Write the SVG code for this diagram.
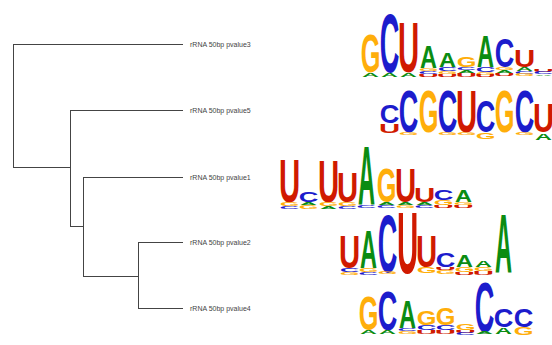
<svg xmlns="http://www.w3.org/2000/svg" width="552" height="345" viewBox="0 0 552 345">
<style>
.lbl{font-family:"Liberation Sans",Arial,sans-serif;font-size:7px;fill:#444}
.L{font-family:"Liberation Sans",Arial,sans-serif;font-weight:bold}
.a{fill:#0b8c12}.c{fill:#1c1ccc}.g{fill:#ffae0a}.u{fill:#d01a00}
.tree{fill:none;stroke:#444;stroke-width:1}
</style>
<rect width="552" height="345" fill="#fff"/>
<g id="connectors">
<path class="tree" d="M13,44.5 H183 M13.5,44.5 V167.5 M13,167.5 H70 M70.5,110.5 V226.5 M70,110.5 H183 M70,226.5 H83 M83.5,177.5 V276.5 M83,177.5 H183 M83,276.5 H138 M138.5,242.5 V308.5 M138,242.5 H183 M138,308.5 H183"/>
</g>
<g id="pvalue3">
<text class="lbl" x="190" y="47">rRNA 50bp pvalue3</text>
<text class="L g" x="360.8" y="72" font-size="54.5" textLength="19.7" lengthAdjust="spacingAndGlyphs">G</text>
<text class="L a" x="362" y="77" font-size="5.6" textLength="17" lengthAdjust="spacingAndGlyphs">A</text>
<text class="L c" x="379.7" y="72" font-size="83.8" textLength="19.6" lengthAdjust="spacingAndGlyphs">C</text>
<text class="L a" x="381" y="77" font-size="5.6" textLength="17" lengthAdjust="spacingAndGlyphs">A</text>
<text class="L u" x="397.9" y="72" font-size="69.9" textLength="21.2" lengthAdjust="spacingAndGlyphs">U</text>
<text class="L a" x="400" y="77" font-size="5.6" textLength="17" lengthAdjust="spacingAndGlyphs">A</text>
<text class="L a" x="420" y="68" font-size="32.1" textLength="17" lengthAdjust="spacingAndGlyphs">A</text>
<text class="L g" x="418.8" y="71" font-size="4.2" textLength="19.7" lengthAdjust="spacingAndGlyphs">G</text>
<text class="L c" x="418.7" y="74" font-size="4.2" textLength="19.6" lengthAdjust="spacingAndGlyphs">C</text>
<text class="L u" x="417.9" y="77" font-size="4.2" textLength="21.2" lengthAdjust="spacingAndGlyphs">U</text>
<text class="L a" x="439" y="67" font-size="19.6" textLength="17" lengthAdjust="spacingAndGlyphs">A</text>
<text class="L c" x="437.7" y="71" font-size="5.6" textLength="19.6" lengthAdjust="spacingAndGlyphs">C</text>
<text class="L g" x="437.8" y="74" font-size="4.2" textLength="19.7" lengthAdjust="spacingAndGlyphs">G</text>
<text class="L u" x="436.9" y="77" font-size="4.2" textLength="21.2" lengthAdjust="spacingAndGlyphs">U</text>
<text class="L g" x="456.8" y="67" font-size="14" textLength="19.7" lengthAdjust="spacingAndGlyphs">G</text>
<text class="L c" x="456.7" y="70" font-size="4.2" textLength="19.6" lengthAdjust="spacingAndGlyphs">C</text>
<text class="L a" x="458" y="73" font-size="4.2" textLength="17" lengthAdjust="spacingAndGlyphs">A</text>
<text class="L u" x="455.9" y="77" font-size="5.6" textLength="21.2" lengthAdjust="spacingAndGlyphs">U</text>
<text class="L a" x="477" y="67" font-size="44.7" textLength="17" lengthAdjust="spacingAndGlyphs">A</text>
<text class="L c" x="475.7" y="72" font-size="7" textLength="19.6" lengthAdjust="spacingAndGlyphs">C</text>
<text class="L g" x="475.8" y="75" font-size="4.2" textLength="19.7" lengthAdjust="spacingAndGlyphs">G</text>
<text class="L u" x="474.9" y="77" font-size="2.8" textLength="21.2" lengthAdjust="spacingAndGlyphs">U</text>
<text class="L c" x="494.7" y="67" font-size="40.5" textLength="19.6" lengthAdjust="spacingAndGlyphs">C</text>
<text class="L g" x="494.8" y="70" font-size="4.2" textLength="19.7" lengthAdjust="spacingAndGlyphs">G</text>
<text class="L a" x="496" y="73" font-size="4.2" textLength="17" lengthAdjust="spacingAndGlyphs">A</text>
<text class="L u" x="493.9" y="76" font-size="4.2" textLength="21.2" lengthAdjust="spacingAndGlyphs">U</text>
<text class="L u" x="513.9" y="67" font-size="23.7" textLength="21.2" lengthAdjust="spacingAndGlyphs">U</text>
<text class="L a" x="516" y="71" font-size="5.6" textLength="17" lengthAdjust="spacingAndGlyphs">A</text>
<text class="L c" x="514.7" y="74" font-size="4.2" textLength="19.6" lengthAdjust="spacingAndGlyphs">C</text>
<text class="L g" x="514.8" y="76" font-size="2.8" textLength="19.7" lengthAdjust="spacingAndGlyphs">G</text>
<text class="L u" x="532.9" y="72" font-size="2.8" textLength="21.2" lengthAdjust="spacingAndGlyphs">U</text>
<text class="L c" x="533.7" y="74" font-size="2.8" textLength="19.6" lengthAdjust="spacingAndGlyphs">C</text>
<text class="L a" x="535" y="75.5" font-size="2.1" textLength="17" lengthAdjust="spacingAndGlyphs">A</text>
</g>
<g id="pvalue5">
<text class="lbl" x="190" y="113">rRNA 50bp pvalue5</text>
<text class="L c" x="379.7" y="123" font-size="25.1" textLength="19.6" lengthAdjust="spacingAndGlyphs">C</text>
<text class="L u" x="378.9" y="133" font-size="12.6" textLength="21.2" lengthAdjust="spacingAndGlyphs">U</text>
<text class="L c" x="398.7" y="132" font-size="60.1" textLength="19.6" lengthAdjust="spacingAndGlyphs">C</text>
<text class="L g" x="398.8" y="135" font-size="4.2" textLength="19.7" lengthAdjust="spacingAndGlyphs">G</text>
<text class="L g" x="418.8" y="132" font-size="60.1" textLength="19.7" lengthAdjust="spacingAndGlyphs">G</text>
<text class="L c" x="437.7" y="132" font-size="60.1" textLength="19.6" lengthAdjust="spacingAndGlyphs">C</text>
<text class="L g" x="437.8" y="135" font-size="4.2" textLength="19.7" lengthAdjust="spacingAndGlyphs">G</text>
<text class="L u" x="455.9" y="132" font-size="60.1" textLength="21.2" lengthAdjust="spacingAndGlyphs">U</text>
<text class="L g" x="456.8" y="135" font-size="4.2" textLength="19.7" lengthAdjust="spacingAndGlyphs">G</text>
<text class="L c" x="475.7" y="132" font-size="44.7" textLength="19.6" lengthAdjust="spacingAndGlyphs">C</text>
<text class="L g" x="475.8" y="139" font-size="8.4" textLength="19.7" lengthAdjust="spacingAndGlyphs">G</text>
<text class="L g" x="494.8" y="132" font-size="60.1" textLength="19.7" lengthAdjust="spacingAndGlyphs">G</text>
<text class="L c" x="514.7" y="132" font-size="60.1" textLength="19.6" lengthAdjust="spacingAndGlyphs">C</text>
<text class="L g" x="514.8" y="135" font-size="4.2" textLength="19.7" lengthAdjust="spacingAndGlyphs">G</text>
<text class="L u" x="532.9" y="132" font-size="40.5" textLength="21.2" lengthAdjust="spacingAndGlyphs">U</text>
<text class="L a" x="535" y="140" font-size="9.8" textLength="17" lengthAdjust="spacingAndGlyphs">A</text>
</g>
<g id="pvalue1">
<text class="lbl" x="190" y="180">rRNA 50bp pvalue1</text>
<text class="L u" x="278.9" y="202" font-size="61.5" textLength="21.2" lengthAdjust="spacingAndGlyphs">U</text>
<text class="L g" x="279.8" y="206" font-size="5.6" textLength="19.7" lengthAdjust="spacingAndGlyphs">G</text>
<text class="L c" x="279.7" y="209" font-size="4.2" textLength="19.6" lengthAdjust="spacingAndGlyphs">C</text>
<text class="L c" x="298.7" y="202" font-size="15.4" textLength="19.6" lengthAdjust="spacingAndGlyphs">C</text>
<text class="L a" x="300" y="205" font-size="4.2" textLength="17" lengthAdjust="spacingAndGlyphs">A</text>
<text class="L g" x="298.8" y="209" font-size="5.6" textLength="19.7" lengthAdjust="spacingAndGlyphs">G</text>
<text class="L u" x="317.9" y="202" font-size="58.7" textLength="21.2" lengthAdjust="spacingAndGlyphs">U</text>
<text class="L g" x="318.8" y="206" font-size="5.6" textLength="19.7" lengthAdjust="spacingAndGlyphs">G</text>
<text class="L a" x="320" y="209" font-size="4.2" textLength="17" lengthAdjust="spacingAndGlyphs">A</text>
<text class="L u" x="336.9" y="202" font-size="41.9" textLength="21.2" lengthAdjust="spacingAndGlyphs">U</text>
<text class="L g" x="337.8" y="206" font-size="5.6" textLength="19.7" lengthAdjust="spacingAndGlyphs">G</text>
<text class="L c" x="337.7" y="209" font-size="4.2" textLength="19.6" lengthAdjust="spacingAndGlyphs">C</text>
<text class="L a" x="358" y="205" font-size="83.8" textLength="17" lengthAdjust="spacingAndGlyphs">A</text>
<text class="L c" x="356.7" y="208" font-size="4.2" textLength="19.6" lengthAdjust="spacingAndGlyphs">C</text>
<text class="L g" x="376.8" y="202" font-size="47.5" textLength="19.7" lengthAdjust="spacingAndGlyphs">G</text>
<text class="L a" x="378" y="205" font-size="4.2" textLength="17" lengthAdjust="spacingAndGlyphs">A</text>
<text class="L c" x="376.7" y="208" font-size="4.2" textLength="19.6" lengthAdjust="spacingAndGlyphs">C</text>
<text class="L u" x="394.9" y="202" font-size="47.5" textLength="21.2" lengthAdjust="spacingAndGlyphs">U</text>
<text class="L a" x="397" y="205" font-size="4.2" textLength="17" lengthAdjust="spacingAndGlyphs">A</text>
<text class="L g" x="395.8" y="208" font-size="4.2" textLength="19.7" lengthAdjust="spacingAndGlyphs">G</text>
<text class="L u" x="413.9" y="202" font-size="21" textLength="21.2" lengthAdjust="spacingAndGlyphs">U</text>
<text class="L a" x="416" y="205" font-size="4.2" textLength="17" lengthAdjust="spacingAndGlyphs">A</text>
<text class="L c" x="414.7" y="208" font-size="4.2" textLength="19.6" lengthAdjust="spacingAndGlyphs">C</text>
<text class="L c" x="433.7" y="200" font-size="14" textLength="19.6" lengthAdjust="spacingAndGlyphs">C</text>
<text class="L g" x="433.8" y="205" font-size="7" textLength="19.7" lengthAdjust="spacingAndGlyphs">G</text>
<text class="L u" x="432.9" y="208" font-size="4.2" textLength="21.2" lengthAdjust="spacingAndGlyphs">U</text>
<text class="L a" x="455" y="202" font-size="16.8" textLength="17" lengthAdjust="spacingAndGlyphs">A</text>
<text class="L g" x="453.8" y="205" font-size="4.2" textLength="19.7" lengthAdjust="spacingAndGlyphs">G</text>
<text class="L u" x="452.9" y="208" font-size="4.2" textLength="21.2" lengthAdjust="spacingAndGlyphs">U</text>
</g>
<g id="pvalue2">
<text class="lbl" x="190" y="245">rRNA 50bp pvalue2</text>
<text class="L u" x="338.9" y="268" font-size="46.1" textLength="21.2" lengthAdjust="spacingAndGlyphs">U</text>
<text class="L c" x="339.7" y="272" font-size="5.6" textLength="19.6" lengthAdjust="spacingAndGlyphs">C</text>
<text class="L g" x="339.8" y="275" font-size="4.2" textLength="19.7" lengthAdjust="spacingAndGlyphs">G</text>
<text class="L a" x="360" y="268" font-size="53.1" textLength="17" lengthAdjust="spacingAndGlyphs">A</text>
<text class="L g" x="358.8" y="272" font-size="5.6" textLength="19.7" lengthAdjust="spacingAndGlyphs">G</text>
<text class="L c" x="358.7" y="275" font-size="4.2" textLength="19.6" lengthAdjust="spacingAndGlyphs">C</text>
<text class="L c" x="377.7" y="272" font-size="82.4" textLength="19.6" lengthAdjust="spacingAndGlyphs">C</text>
<text class="L g" x="377.8" y="274" font-size="2.8" textLength="19.7" lengthAdjust="spacingAndGlyphs">G</text>
<text class="L u" x="396.9" y="273" font-size="88" textLength="21.2" lengthAdjust="spacingAndGlyphs">U</text>
<text class="L u" x="415.9" y="267" font-size="44.7" textLength="21.2" lengthAdjust="spacingAndGlyphs">U</text>
<text class="L g" x="416.8" y="273" font-size="8.4" textLength="19.7" lengthAdjust="spacingAndGlyphs">G</text>
<text class="L c" x="435.7" y="267" font-size="19.6" textLength="19.6" lengthAdjust="spacingAndGlyphs">C</text>
<text class="L u" x="434.9" y="270" font-size="4.2" textLength="21.2" lengthAdjust="spacingAndGlyphs">U</text>
<text class="L g" x="435.8" y="274" font-size="5.6" textLength="19.7" lengthAdjust="spacingAndGlyphs">G</text>
<text class="L a" x="456" y="267" font-size="16.8" textLength="17" lengthAdjust="spacingAndGlyphs">A</text>
<text class="L g" x="454.8" y="272" font-size="7" textLength="19.7" lengthAdjust="spacingAndGlyphs">G</text>
<text class="L u" x="453.9" y="275" font-size="4.2" textLength="21.2" lengthAdjust="spacingAndGlyphs">U</text>
<text class="L a" x="475" y="267" font-size="9.8" textLength="17" lengthAdjust="spacingAndGlyphs">A</text>
<text class="L g" x="473.8" y="271" font-size="5.6" textLength="19.7" lengthAdjust="spacingAndGlyphs">G</text>
<text class="L u" x="472.9" y="275" font-size="5.6" textLength="21.2" lengthAdjust="spacingAndGlyphs">U</text>
<text class="L a" x="495" y="273" font-size="83.8" textLength="17" lengthAdjust="spacingAndGlyphs">A</text>
</g>
<g id="pvalue4">
<text class="lbl" x="190" y="311">rRNA 50bp pvalue4</text>
<text class="L g" x="358.8" y="330" font-size="48.9" textLength="19.7" lengthAdjust="spacingAndGlyphs">G</text>
<text class="L a" x="360" y="334" font-size="5.6" textLength="17" lengthAdjust="spacingAndGlyphs">A</text>
<text class="L c" x="377.7" y="330" font-size="55.9" textLength="19.6" lengthAdjust="spacingAndGlyphs">C</text>
<text class="L a" x="379" y="334" font-size="5.6" textLength="17" lengthAdjust="spacingAndGlyphs">A</text>
<text class="L a" x="399" y="328" font-size="39.1" textLength="17" lengthAdjust="spacingAndGlyphs">A</text>
<text class="L c" x="397.7" y="331" font-size="4.2" textLength="19.6" lengthAdjust="spacingAndGlyphs">C</text>
<text class="L g" x="397.8" y="334" font-size="4.2" textLength="19.7" lengthAdjust="spacingAndGlyphs">G</text>
<text class="L g" x="416.8" y="325" font-size="21" textLength="19.7" lengthAdjust="spacingAndGlyphs">G</text>
<text class="L c" x="416.7" y="330" font-size="7" textLength="19.6" lengthAdjust="spacingAndGlyphs">C</text>
<text class="L u" x="415.9" y="334" font-size="5.6" textLength="21.2" lengthAdjust="spacingAndGlyphs">U</text>
<text class="L g" x="435.8" y="325" font-size="23.7" textLength="19.7" lengthAdjust="spacingAndGlyphs">G</text>
<text class="L c" x="435.7" y="330" font-size="7" textLength="19.6" lengthAdjust="spacingAndGlyphs">C</text>
<text class="L u" x="434.9" y="334" font-size="5.6" textLength="21.2" lengthAdjust="spacingAndGlyphs">U</text>
<text class="L g" x="455.8" y="330" font-size="9.8" textLength="19.7" lengthAdjust="spacingAndGlyphs">G</text>
<text class="L u" x="454.9" y="333" font-size="4.2" textLength="21.2" lengthAdjust="spacingAndGlyphs">U</text>
<text class="L c" x="455.7" y="335" font-size="2.8" textLength="19.6" lengthAdjust="spacingAndGlyphs">C</text>
<text class="L c" x="474.7" y="332" font-size="69.9" textLength="19.6" lengthAdjust="spacingAndGlyphs">C</text>
<text class="L a" x="476" y="334" font-size="2.8" textLength="17" lengthAdjust="spacingAndGlyphs">A</text>
<text class="L c" x="493.7" y="327" font-size="26.5" textLength="19.6" lengthAdjust="spacingAndGlyphs">C</text>
<text class="L a" x="495" y="334" font-size="9.8" textLength="17" lengthAdjust="spacingAndGlyphs">A</text>
<text class="L c" x="513.7" y="327" font-size="26.5" textLength="19.6" lengthAdjust="spacingAndGlyphs">C</text>
<text class="L g" x="513.8" y="335" font-size="11.2" textLength="19.7" lengthAdjust="spacingAndGlyphs">G</text>
</g>
</svg>
